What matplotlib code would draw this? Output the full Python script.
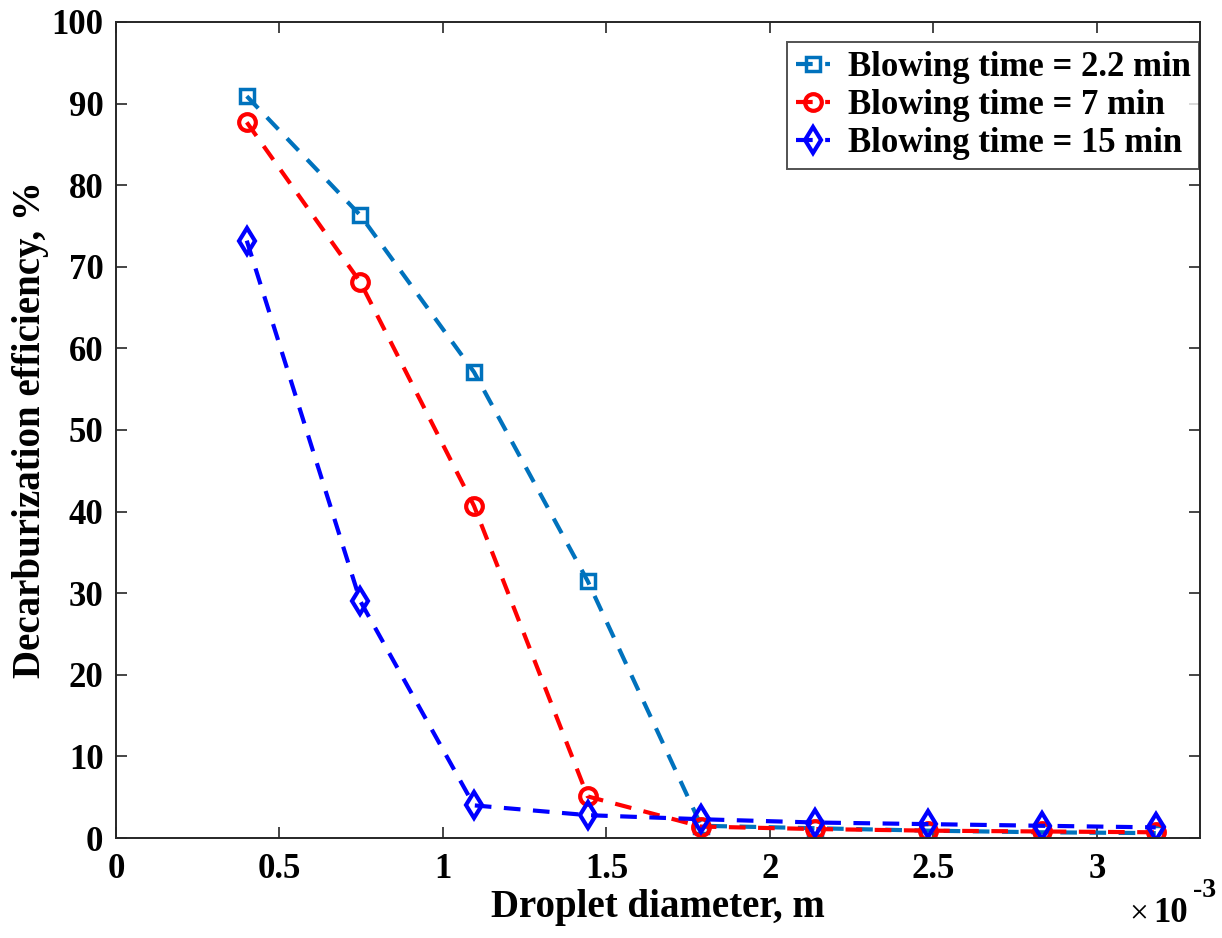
import numpy as np
import matplotlib
matplotlib.use("Agg")
import matplotlib.pyplot as plt
from matplotlib.ticker import FuncFormatter

plt.rcParams['font.family'] = ['Liberation Serif', 'DejaVu Serif']
plt.rcParams['font.weight'] = 'bold'

# Droplet diameter (m)
diameter = np.array([0.40, 0.7475, 1.095, 1.4425, 1.79, 2.1375, 2.485, 2.8325, 3.18]) * 1e-3

# Decarburization efficiency (%)
eff_2_2 = [90.9, 76.3, 57.1, 31.5, 1.5, 1.2, 0.9, 0.7, 0.6]
eff_7 = [87.7, 68.1, 40.7, 5.1, 1.4, 1.1, 0.9, 0.8, 0.7]
eff_15 = [73.2, 29.0, 4.0, 2.8, 2.3, 1.9, 1.7, 1.5, 1.3]

labels = ['Blowing time = 2.2 min', 'Blowing time = 7 min', 'Blowing time = 15 min']

fig = plt.figure(figsize=(12.22, 9.38), dpi=100)
ax = fig.add_axes([0.0949, 0.1066, 0.887, 0.87])

ax.plot(diameter, eff_2_2, '--s', color='#0072BD', lw=3, ms=10, mew=2.5,
        mfc='none', dashes=(4, 3), label=labels[0])
ax.plot(diameter, eff_7, '--o', color='#FF0000', lw=3, ms=12, mew=3,
        mfc='none', dashes=(4, 3), label=labels[1])
ax.plot(diameter, eff_15, '--d', color='#0000FF', lw=3, ms=13, mew=3,
        mfc='none', dashes=(4, 3), label=labels[2])

ax.set_xlim(0, 3.315e-3)
ax.set_ylim(0, 100)
ax.set_xticks(np.arange(0, 3.01e-3, 0.5e-3))
ax.set_yticks(np.arange(0, 101, 10))
ax.xaxis.set_major_formatter(FuncFormatter(lambda v, p: '%g' % round(v * 1e3, 3)))

ax.tick_params(direction='in', length=8, width=1.2, labelsize=25,
               top=True, right=True, colors='#262626', labelcolor='black')
ax.tick_params(axis='x', pad=11)
ax.tick_params(axis='y', pad=9)
for lab in ax.get_xticklabels() + ax.get_yticklabels():
    lab.set_fontweight('bold')
for s in ax.spines.values():
    s.set_linewidth(1.4)
    s.set_color('#262626')

ax.set_xlabel('Droplet diameter, m', fontsize=28, fontweight='bold', labelpad=2)
ax.set_ylabel('Decarburization efficiency, %', fontsize=28, fontweight='bold', labelpad=2)

fig.text(0.924, 0.017, '\u00d7', fontsize=24, ha='left', va='baseline', fontweight='normal')
fig.text(0.944, 0.017, '10', fontsize=25, ha='left', va='baseline')
fig.text(0.9765, 0.044, '-3', fontsize=20, ha='left', va='baseline')

leg = ax.legend(loc='upper right', fontsize=25, frameon=True, fancybox=False,
                edgecolor='#262626', handlelength=1.0, borderaxespad=0.0,
                bbox_to_anchor=(0.9995, 0.975),
                labelspacing=0.15, handletextpad=0.5, borderpad=0.25)
leg.get_frame().set_linewidth(1.4)
for t in leg.get_texts():
    t.set_fontweight('bold')

fig.savefig('out.png', dpi=100)
